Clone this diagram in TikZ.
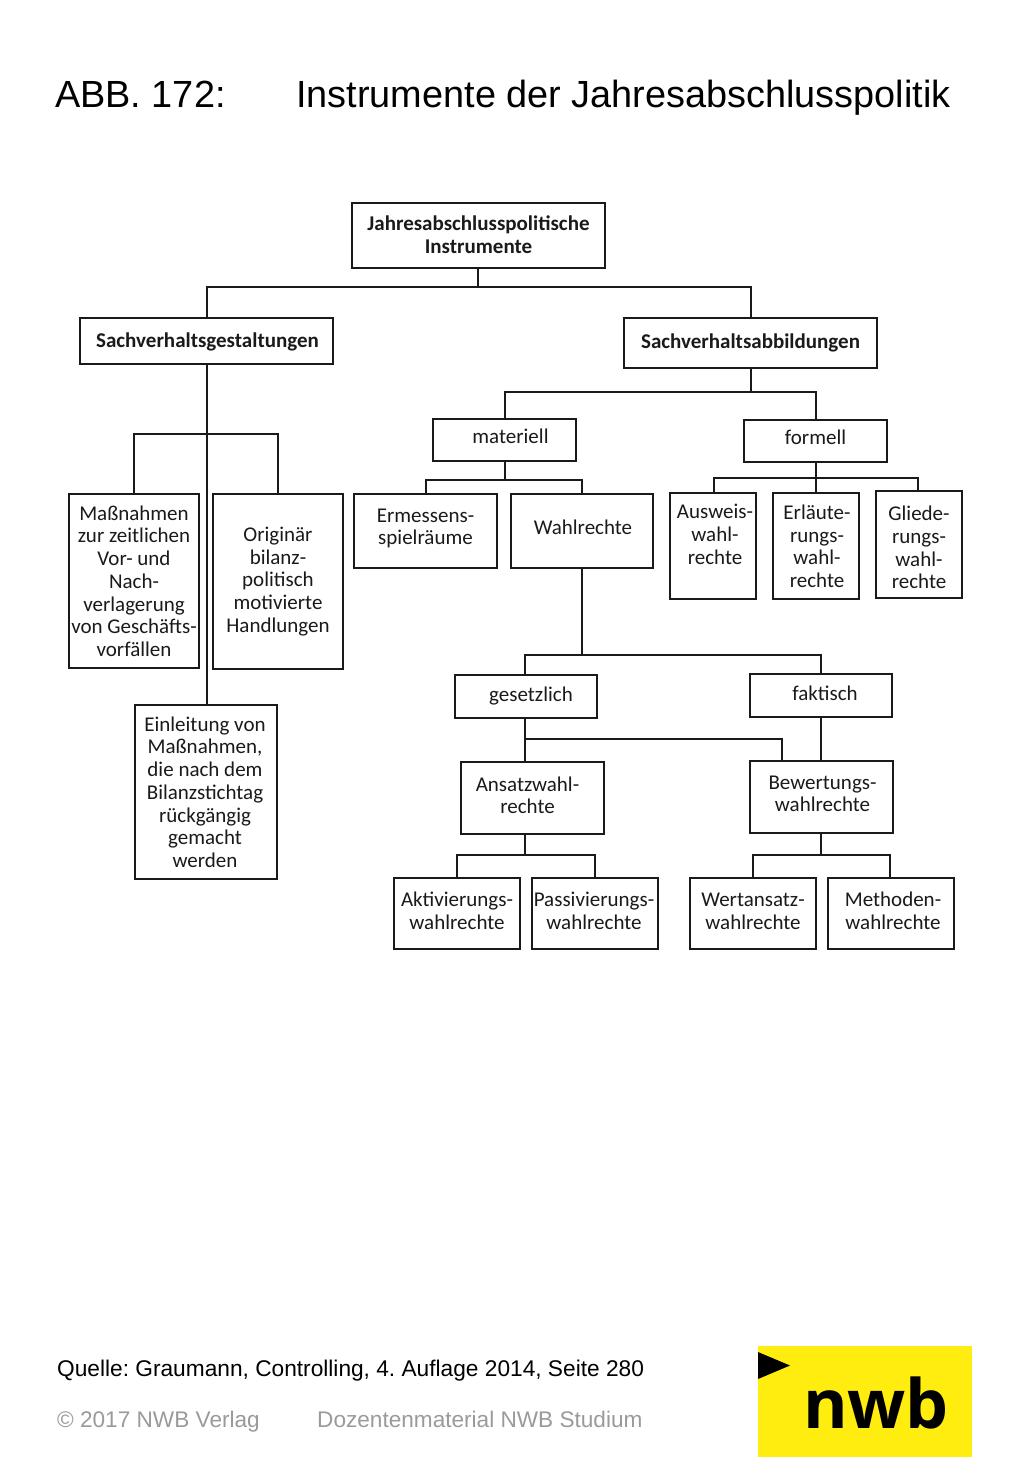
\documentclass[tikz,border=0pt]{standalone}
\usepackage{fontspec}
\setmainfont{Liberation Sans}
\newfontfamily\boxfont{Carlito}
\newfontfamily\logofont{Open Sans}
\definecolor{nwbyellow}{HTML}{FFED0F}
\definecolor{footgrey}{HTML}{9A9A9A}
\definecolor{ink}{HTML}{1A1A1A}
\frenchspacing
\newcommand{\tx}[3]{\raisebox{\dimexpr#2pt-7pt\relax}[0pt][0pt]{\makebox[0pt]{\hspace*{\dimexpr2pt*#1\relax}\begin{tabular}[c]{@{}c@{}}#3\end{tabular}}}}
\newcommand{\bx}[7][]{\node[ibox,minimum width={#4pt-#3pt},minimum height={#6pt-#5pt}] (#2) at ({(#3+#4)/2},{(#5+#6)/2}) {#7};}
\tikzset{
 ibox/.style={draw=ink,line width=2pt,inner sep=0pt,outer sep=0pt,fill=white,text=ink,
   font=\boxfont\frenchspacing\fontsize{21}{22.7}\selectfont},
 conn/.style={draw=ink,line width=2pt,line cap=rect},
 headline/.style={anchor=base west,inner sep=0pt,font=\frenchspacing\fontsize{37.85}{40}\selectfont,text=black},
 source/.style={anchor=base west,inner sep=0pt,font=\frenchspacing\fontsize{22.7}{26}\selectfont,text=black},
 foot/.style={anchor=base west,inner sep=0pt,font=\frenchspacing\fontsize{22.6}{26}\selectfont,text=footgrey},
}
\begin{document}
\begin{tikzpicture}[x=1pt,y=-1pt]
\useasboundingbox (0,0) rectangle (1024,1479);
\node[headline] (t1) at (55,108) {ABB. 172:};
\node[headline] (t2) at (296,108) {Instrumente der Jahresabschlusspolitik};
\coordinate (b1) at (478,287);
\coordinate (b2) at (207,434);
\coordinate (b3) at (750.5,392);
\coordinate (b4) at (504.5,480);
\coordinate (b5) at (815.5,478);
\coordinate (b6) at (582,655);
\coordinate (b7) at (525,739);
\coordinate (b8) at (525,855);
\coordinate (b9) at (821,855);
\bx{top}{352}{605}{203}{268}{\tx{0}{0}{\textbf{Jahresabschlusspolitische}\\\textbf{Instrumente}}}
\bx{sg}{80}{333}{318}{364}{\tx{1}{0}{\textbf{Sachverhaltsgestaltungen}}}
\bx{sa}{624}{877}{318}{368}{\tx{0}{1}{\textbf{Sachverhaltsabbildungen}}}
\bx{mat}{433}{576}{419}{461}{\tx{6}{3}{materiell}}
\bx{form}{744}{887}{420}{462}{\tx{0}{3}{formell}}
\bx{mass}{69}{199}{494}{668}{\tx{0}{-1}{Maßnahmen\\zur zeitlichen\\Vor- und\\Nach-\\verlagerung\\von Geschäfts-\\vorfällen}}
\bx{orig}{213}{343}{494}{669}{\tx{0}{1}{Originär\\bilanz-\\politisch\\motivierte\\Handlungen}}
\bx{erm}{354}{497}{494}{568}{\tx{0}{4}{Ermessens-\\spielräume}}
\bx{wahl}{511}{653}{494}{568}{\tx{1}{3}{Wahlrechte}}
\bx{ausw}{670}{756}{493}{599}{\tx{2}{11}{Ausweis-\\wahl-\\rechte}}
\bx{erl}{773}{859}{493}{599}{\tx{1}{-1}{Erläute-\\rungs-\\wahl-\\rechte}}
\bx{glied}{876}{962}{491}{598}{\tx{0}{-4}{Gliede-\\rungs-\\wahl-\\rechte}}
\bx{einl}{135}{277}{705}{879}{\tx{-1}{-1}{Einleitung von\\Maßnahmen,\\die nach dem\\Bilanzstichtag\\rückgängig\\gemacht\\werden}}
\bx{ges}{455}{597}{675}{718}{\tx{5}{1}{gesetzlich}}
\bx{fak}{750}{892}{674}{717}{\tx{4}{1}{faktisch}}
\bx{ans}{461}{604}{762}{834}{\tx{-5}{2}{Ansatzwahl-\\rechte}}
\bx{bew}{750}{893}{761}{833}{\tx{1}{3}{Bewertungs-\\wahlrechte}}
\bx{akt}{394}{520}{878}{949}{\tx{0}{2}{Aktivierungs-\\wahlrechte}}
\bx{pas}{532}{658}{878}{949}{\tx{-1}{2}{Passivierungs-\\wahlrechte}}
\bx{wer}{690}{816}{878}{949}{\tx{0}{2}{Wertansatz-\\wahlrechte}}
\bx{met}{828}{954}{878}{949}{\tx{2}{2}{Methoden-\\wahlrechte}}
\draw[conn] (top.south -| b1) -- (b1);
\draw[conn] (sg.north) |- (b1) -| (sa.north);
\draw[conn] (sg.south) -- (einl.north -| sg.south);
\draw[conn] (mass.north) |- (b2) -| (orig.north);
\draw[conn] (sa.south) -- (b3);
\draw[conn] (b3 -| b4) -- (b3 -| form.north);
\draw[conn] (b3 -| b4) -- (mat.north -| b4);
\draw[conn] (b3 -| form.north) -- (form.north);
\draw[conn] (mat.south -| b4) -- (b4);
\draw[conn] (erm.north) |- (b4) -| (wahl.north);
\draw[conn] (form.south -| b5) -- (b5);
\draw[conn] (ausw.north -| 714,0) |- (b5) -| (glied.north -| 918,0);
\draw[conn] (b5 -| erl.north) -- (erl.north);
\draw[conn] (wahl.south) -- (b6);
\draw[conn] (b7 |- ges.north) |- (b6) -| (fak.north);
\draw[conn] (b7 |- ges.south) -- (b7 |- ans.north);
\draw[conn] (b7) -| (782,761);
\draw[conn] (fak.south) -- (bew.north -| fak.south);
\draw[conn] (b8 |- ans.south) -- (b8);
\draw[conn] (akt.north) |- (b8) -| (pas.north);
\draw[conn] (bew.south -| b9) -- (b9);
\draw[conn] (wer.north) |- (b9) -| (890,878);
\node[source] (src) at (57,1376) {Quelle: Graumann, Controlling, 4. Auflage 2014, Seite 280};
\node[foot] (f1) at (57,1427) {© 2017 NWB Verlag};
\node[foot] (f2) at (317,1427) {Dozentenmaterial NWB Studium};
\fill[nwbyellow] (758,1346) rectangle (972,1457);
\fill[black] (758,1352) -- (790,1365.5) -- (758,1379) -- cycle;
\node[anchor=base,inner sep=0pt,text=black,font=\logofont\bfseries\fontsize{68}{68}\selectfont] (logo) at (876,1428) {nwb};
\end{tikzpicture}
\end{document}
